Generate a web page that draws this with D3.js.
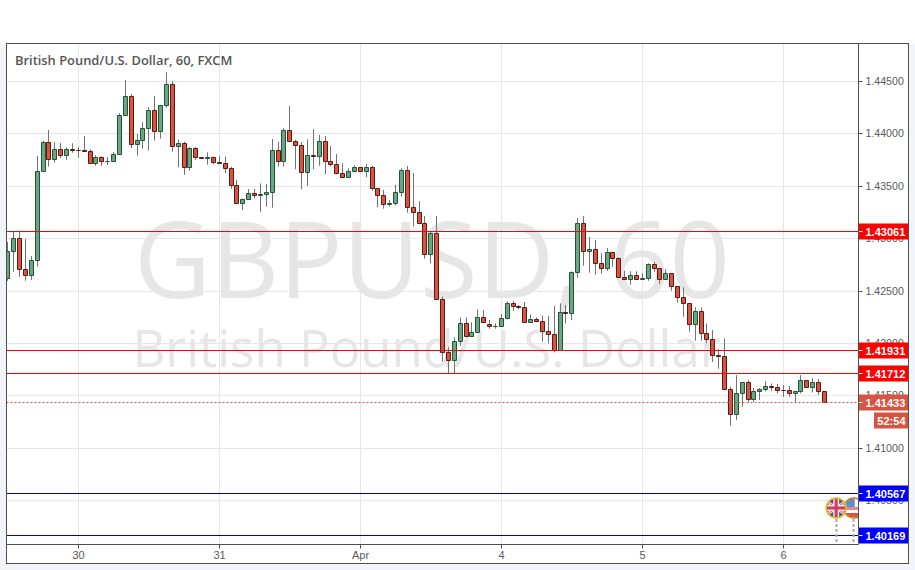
<!DOCTYPE html>
<html>
<head>
<meta charset="utf-8">
<style>
html,body{margin:0;padding:0;background:#fff;overflow:hidden}
svg{display:block}
</style>
<script src="https://cdnjs.cloudflare.com/ajax/libs/d3/7.8.5/d3.min.js"></script>
</head>
<body>
<svg id="chart" width="915" height="570"></svg>
<script>
const titleText = "British Pound/U.S. Dollar, 60, FXCM";
const watermarkBig = "GBPUSD, 60";
const watermarkSmall = "British Pound/U.S. Dollar";
const dayLabels = ["30","31","Apr","4","5","6"];
const dayIndex = [12,36,60,84,108,132];
const priceTicks = [1.405,1.41,1.415,1.42,1.425,1.43,1.435,1.44,1.445];
const redLevels = [1.43061,1.41931,1.41712];
const blueLevels = [1.40567,1.40169];
const lastPrice = 1.41433;
const countdown = "52:54";
const eventIndex = [144,141];
const eventKinds = ["us","uk"];

const opens = [1.42615,1.42877,1.43000,1.42705,1.42647,1.42790,1.43640,1.43917,1.43755,1.43850,1.43793,1.43850,
1.43840,1.43840,1.43831,1.43716,1.43774,1.43735,1.43737,1.43802,1.44175,1.44356,1.43898,1.43936,1.44050,1.44222,1.44022,1.44270,1.44470,1.43879,1.43907,1.43678,
1.43860,1.43774,1.43764,1.43774,1.43726,1.43716,1.43669,1.43506,1.43335,1.43373,1.43430,1.43411,1.43418,1.43440,1.43840,1.43735,1.44031,1.43926,1.43888,1.43630,
1.43793,1.43783,1.43926,1.43735,1.43707,1.43621,1.43583,1.43640,1.43678,1.43640,1.43678,1.43478,1.43411,1.43325,1.43335,1.43440,1.43650,1.43296,1.43249,1.43144,
1.42848,1.43048,1.42418,1.41912,1.41836,1.42017,1.42189,1.42065,1.42103,1.42246,1.42180,1.42161,1.42161,1.42237,1.42380,1.42351,1.42342,1.42199,1.42227,1.42208,
1.42113,1.42084,1.41931,1.42294,1.42284,1.42676,1.43144,1.42877,1.42896,1.42762,1.42714,1.42867,1.42809,1.42628,1.42609,1.42647,1.42609,1.42615,1.42752,1.42714,
1.42609,1.42667,1.42543,1.42438,1.42380,1.42180,1.42304,1.42094,1.42036,1.41884,1.41874,1.41559,1.41321,1.41521,1.41626,1.41464,1.41540,1.41559,1.41588,1.41578,
1.41550,1.41550,1.41521,1.41540,1.41645,1.41578,1.41626,1.41540];
const closes = [1.42877,1.43000,1.42705,1.42647,1.42790,1.43640,1.43917,1.43755,1.43850,1.43793,1.43850,1.43840,
1.43838,1.43831,1.43716,1.43774,1.43735,1.43737,1.43802,1.44175,1.44356,1.43898,1.43936,1.44050,1.44222,1.44022,1.44270,1.44470,1.43879,1.43907,1.43678,1.43860,
1.43774,1.43764,1.43774,1.43726,1.43716,1.43669,1.43506,1.43335,1.43373,1.43430,1.43411,1.43420,1.43440,1.43840,1.43735,1.44031,1.43926,1.43888,1.43630,1.43793,
1.43783,1.43926,1.43735,1.43707,1.43621,1.43583,1.43640,1.43678,1.43640,1.43678,1.43478,1.43411,1.43325,1.43335,1.43440,1.43650,1.43296,1.43249,1.43144,1.42848,
1.43048,1.42418,1.41912,1.41836,1.42017,1.42189,1.42065,1.42103,1.42246,1.42199,1.42157,1.42163,1.42237,1.42380,1.42351,1.42342,1.42199,1.42227,1.42208,1.42113,
1.42084,1.41931,1.42294,1.42284,1.42676,1.43144,1.42877,1.42896,1.42762,1.42714,1.42867,1.42809,1.42628,1.42609,1.42647,1.42609,1.42619,1.42752,1.42714,1.42609,
1.42667,1.42543,1.42438,1.42380,1.42180,1.42304,1.42094,1.42036,1.41884,1.41874,1.41559,1.41321,1.41521,1.41626,1.41464,1.41540,1.41559,1.41588,1.41578,1.41550,
1.41548,1.41521,1.41540,1.41645,1.41578,1.41626,1.41540,1.41433];
const highs = [1.42965,1.43064,1.43064,1.42994,1.42831,1.43786,1.43929,1.44034,1.43917,1.43910,1.43865,1.43907,
1.43872,1.43977,1.43850,1.43793,1.43783,1.43774,1.43824,1.44194,1.44511,1.44378,1.43996,1.44111,1.44254,1.44359,1.44270,1.44585,1.44499,1.43945,1.43922,1.43869,
1.43869,1.43774,1.43821,1.43779,1.43786,1.43779,1.43684,1.43557,1.43379,1.43471,1.43471,1.43525,1.43519,1.43948,1.43922,1.44050,1.44263,1.43939,1.43917,1.43945,
1.44044,1.43987,1.43977,1.43881,1.43805,1.43716,1.43669,1.43697,1.43678,1.43710,1.43691,1.43478,1.43461,1.43366,1.43509,1.43669,1.43691,1.43624,1.43354,1.43213,
1.43070,1.43213,1.42443,1.41960,1.42055,1.42246,1.42246,1.42199,1.42323,1.42316,1.42221,1.42189,1.42278,1.42395,1.42402,1.42364,1.42393,1.42275,1.42246,1.42262,
1.42259,1.42354,1.42380,1.42364,1.42686,1.43194,1.43213,1.43013,1.42984,1.42857,1.42908,1.42867,1.42819,1.42691,1.42686,1.42686,1.42667,1.42762,1.42774,1.42714,
1.42705,1.42667,1.42543,1.42533,1.42380,1.42342,1.42342,1.42189,1.42125,1.41941,1.42046,1.41584,1.41695,1.41626,1.41648,1.41572,1.41572,1.41638,1.41616,1.41610,
1.41600,1.41591,1.41540,1.41695,1.41645,1.41667,1.41657,1.41540];
const lows = [1.42595,1.42682,1.42633,1.42595,1.42602,1.42729,1.43640,1.43684,1.43722,1.43767,1.43748,1.43817,
1.43770,1.43824,1.43710,1.43693,1.43693,1.43700,1.43732,1.43798,1.44175,1.43860,1.43789,1.43856,1.43837,1.43932,1.43951,1.44247,1.43827,1.43678,1.43605,1.43646,
1.43748,1.43764,1.43703,1.43707,1.43710,1.43621,1.43474,1.43328,1.43271,1.43366,1.43379,1.43252,1.43302,1.43293,1.43684,1.43684,1.43926,1.43659,1.43468,1.43500,
1.43659,1.43693,1.43611,1.43684,1.43611,1.43583,1.43583,1.43640,1.43640,1.43583,1.43455,1.43296,1.43283,1.43302,1.43315,1.43398,1.43245,1.43111,1.43144,1.42806,
1.42762,1.42418,1.41823,1.41712,1.41712,1.41973,1.42065,1.42065,1.42103,1.42199,1.42138,1.42138,1.42161,1.42227,1.42310,1.42323,1.42199,1.42199,1.42199,1.42014,
1.41998,1.41912,1.41931,1.42189,1.42221,1.42624,1.42739,1.42672,1.42653,1.42662,1.42691,1.42729,1.42628,1.42602,1.42558,1.42602,1.42605,1.42595,1.42682,1.42564,
1.42602,1.42500,1.42386,1.42252,1.42109,1.42023,1.42023,1.41998,1.41820,1.41756,1.41559,1.41212,1.41266,1.41393,1.41438,1.41438,1.41457,1.41540,1.41546,1.41521,
1.41489,1.41489,1.41438,1.41521,1.41578,1.41530,1.41505,1.41433];

const W = 915, H = 570;
const L = 6.5, R = 858.5, T = 43.5, B = 544.5, OR = 908.5, OB = 563.5;
const ink = "#4f4f4f", axisText = "#5a5a5a", gridC = "#e6e6e6";
const upFill = "#6ba583", upEdge = "#225437", downFill = "#d75442", downEdge = "#5b1a13", wickC = "#737375";
const sans = "'Liberation Sans', Arial, sans-serif";
const snap = v => Math.floor(v) + 0.5;

const x = d3.scaleLinear().domain([-0.2213, 144.8]).range([L, R]);
const y = d3.scaleLinear().domain([1.40079, 1.44859]).range([B, T]);
const snapGrid = v => snap(y(v) + 0.3);

const svg = d3.select("#chart");
svg.append("rect").attr("width", W).attr("height", H).attr("fill", "#fff");
svg.append("rect").attr("y", T).attr("width", W).attr("height", H - T).attr("fill", "#f1f5f9");
svg.append("rect").attr("x", L).attr("y", T).attr("width", OR - L).attr("height", OB - T).attr("fill", "#fff");

const defs = svg.append("defs");
defs.append("clipPath").attr("id", "plot").append("rect").attr("x", L).attr("y", T).attr("width", R - L).attr("height", B - T);

// watermark
const wm = svg.append("g").attr("fill", "#e6e6e6").attr("font-family", "'Open Sans', sans-serif");
wm.append("text").attr("x", 432).attr("y", 298).attr("text-anchor", "middle").attr("font-size", 105.7).text(watermarkBig);
wm.append("text").attr("x", 426.5).attr("y", 367).attr("text-anchor", "middle").attr("font-size", 51).text(watermarkSmall);

// grid
const grid = svg.append("g").attr("stroke", gridC).attr("stroke-width", 1);
grid.selectAll("line.h").data(priceTicks).join("line").attr("class", "h")
  .attr("x1", L).attr("x2", R).attr("y1", d => snapGrid(d)).attr("y2", d => snapGrid(d));
grid.selectAll("line.v").data(dayIndex).join("line").attr("class", "v")
  .attr("y1", T).attr("y2", B).attr("x1", d => snap(x(d))).attr("x2", d => snap(x(d)));

// candles
const plot = svg.append("g").attr("clip-path", "url(#plot)");
const candles = plot.selectAll("g.c").data(opens.map((o, i) => i)).join("g").attr("class", "c");
candles.append("line")
  .attr("x1", i => snap(x(i))).attr("x2", i => snap(x(i)))
  .attr("y1", i => y(highs[i])).attr("y2", i => y(lows[i]))
  .attr("stroke", wickC).attr("stroke-width", 1);
candles.append("path")
  .attr("d", i => {
    const t = snap(y(Math.max(opens[i], closes[i])));
    const b = snap(y(Math.min(opens[i], closes[i])));
    const l = snap(x(i)) - 2;
    return `M${l},${t}H${l + 4}V${b}H${l}Z`;
  })
  .attr("fill", i => closes[i] >= opens[i] ? upFill : downFill)
  .attr("stroke", i => closes[i] >= opens[i] ? upEdge : downEdge)
  .attr("stroke-width", 1);

// level lines
const levels = plot.append("g");
levels.selectAll("line.r").data(redLevels).join("line").attr("class", "r")
  .attr("x1", L).attr("x2", R).attr("y1", d => snap(y(d))).attr("y2", d => snap(y(d)))
  .attr("stroke", "#ff0000");
levels.selectAll("line.b").data(blueLevels).join("line").attr("class", "b")
  .attr("x1", L).attr("x2", R).attr("y1", d => snap(y(d))).attr("y2", d => snap(y(d)))
  .attr("stroke", "#0000cc");
levels.append("line").attr("x1", L).attr("x2", R)
  .attr("y1", snap(y(lastPrice))).attr("y2", snap(y(lastPrice)))
  .attr("stroke", downFill).attr("stroke-dasharray", "2,2");

// event bubbles
const ev = plot.append("g");
eventIndex.forEach((d, n) => {
  const cx = x(d), cy = 508;
  ev.append("line").attr("x1", snap(cx)).attr("x2", snap(cx)).attr("y1", cy + 11).attr("y2", B)
    .attr("stroke", "#aaaaaa").attr("stroke-width", 2).attr("stroke-dasharray", "3,2");
  const id = "flag" + n;
  defs.append("clipPath").attr("id", id).append("circle").attr("cx", cx).attr("cy", cy).attr("r", 9.5);
  const g = ev.append("g");
  g.append("circle").attr("cx", cx).attr("cy", cy).attr("r", 10.5).attr("fill", "#fff");
  const f = g.append("g").attr("clip-path", `url(#${id})`);
  if (eventKinds[n] === "uk") {
    f.append("rect").attr("x", cx - 10).attr("y", cy - 10).attr("width", 20).attr("height", 20).attr("fill", "#3f4f92");
    [[-10,-7,10,7],[-10,7,10,-7]].forEach(p => {
      f.append("line").attr("x1", cx + p[0]).attr("y1", cy + p[1]).attr("x2", cx + p[2]).attr("y2", cy + p[3])
        .attr("stroke", "#f3dfe2").attr("stroke-width", 3);
      f.append("line").attr("x1", cx + p[0]).attr("y1", cy + p[1]).attr("x2", cx + p[2]).attr("y2", cy + p[3])
        .attr("stroke", "#d8576f").attr("stroke-width", 1);
    });
    f.append("rect").attr("x", cx - 3).attr("y", cy - 10).attr("width", 6).attr("height", 20).attr("fill", "#f3dfe2");
    f.append("rect").attr("x", cx - 10).attr("y", cy - 3).attr("width", 20).attr("height", 6).attr("fill", "#f3dfe2");
    f.append("rect").attr("x", cx - 1.5).attr("y", cy - 10).attr("width", 3).attr("height", 20).attr("fill", "#d23b5a");
    f.append("rect").attr("x", cx - 10).attr("y", cy - 1.5).attr("width", 20).attr("height", 3).attr("fill", "#d23b5a");
  } else {
    f.append("rect").attr("x", cx - 10).attr("y", cy - 10).attr("width", 20).attr("height", 20).attr("fill", "#fff");
    f.append("rect").attr("x", cx - 10).attr("y", cy - 1).attr("width", 20).attr("height", 3).attr("fill", "#e88a80");
    f.append("rect").attr("x", cx - 10).attr("y", cy + 5).attr("width", 20).attr("height", 4).attr("fill", "#d9534a");
    f.append("rect").attr("x", cx - 10).attr("y", cy - 10).attr("width", 11).attr("height", 9).attr("fill", "#5b8fd6");
  }
  g.append("circle").attr("cx", cx).attr("cy", cy).attr("r", 10).attr("fill", "none")
    .attr("stroke", eventKinds[n] === "uk" ? "#d8bd1e" : "#cf7a1c").attr("stroke-width", 1.5);
});

// axes
const yAxis = d3.axisRight(y).tickValues(priceTicks).tickFormat(d => d.toFixed(5)).tickSize(4).tickPadding(3);
const gy = svg.append("g").attr("transform", `translate(${R},0)`).call(yAxis);
const xAxis = d3.axisBottom(x).tickValues(dayIndex).tickFormat((d, i) => dayLabels[i]).tickSize(4).tickPadding(3);
const gx = svg.append("g").attr("transform", `translate(0,${B})`).call(xAxis);
[gy, gx].forEach(g => {
  g.select(".domain").remove();
  g.selectAll("line").attr("stroke", ink);
  g.selectAll("text").attr("fill", axisText).attr("font-family", sans).attr("font-size", 11);
});
gy.selectAll("text").attr("font-size", 10.6);
gy.selectAll(".tick").attr("transform", d => `translate(0,${snapGrid(d)})`);
gx.selectAll(".tick").attr("transform", d => `translate(${snap(x(d))},0)`);

// price labels
const labelData = redLevels.map(v => ({ v, c: "#ff0000" }))
  .concat(blueLevels.map(v => ({ v, c: "#0000ff" })))
  .concat([{ v: lastPrice, c: downFill }]);
const labels = svg.append("g");
labels.selectAll("g").data(labelData).join("g").each(function (d) {
  const g = d3.select(this), cy = snap(y(d.v));
  g.append("rect").attr("x", R - 0.5).attr("y", cy - 8).attr("width", OR - R + 0.5).attr("height", 16).attr("fill", d.c);
  g.append("line").attr("x1", R).attr("x2", R + 4).attr("y1", cy).attr("y2", cy).attr("stroke", "#fff");
  g.append("text").attr("x", R + 7).attr("y", cy + 4.2).attr("fill", "#fff").attr("font-family", sans)
    .attr("font-weight", "bold").attr("font-size", 11).text(d.v.toFixed(5));
});
const cdY = snap(y(lastPrice)) + 18;
svg.append("rect").attr("x", 874).attr("y", cdY - 8).attr("width", OR - 874).attr("height", 16).attr("fill", downFill);
svg.append("text").attr("x", OR - 3).attr("y", cdY + 4.2).attr("text-anchor", "end").attr("fill", "#fff")
  .attr("font-family", sans).attr("font-weight", "bold").attr("font-size", 11).text(countdown);

// frame
const frame = svg.append("g").attr("fill", "none").attr("stroke", ink).attr("stroke-width", 1);
frame.append("rect").attr("x", L).attr("y", T).attr("width", OR - L).attr("height", OB - T);
frame.append("line").attr("x1", R).attr("x2", R).attr("y1", T).attr("y2", B);
frame.append("line").attr("x1", L).attr("x2", R).attr("y1", B).attr("y2", B);

// title
svg.append("text").attr("x", 15).attr("y", 65).attr("fill", "#555")
  .attr("font-family", "'Open Sans', sans-serif").attr("font-weight", 600).attr("font-size", 12.9).text(titleText);
</script>
</body>
</html>
